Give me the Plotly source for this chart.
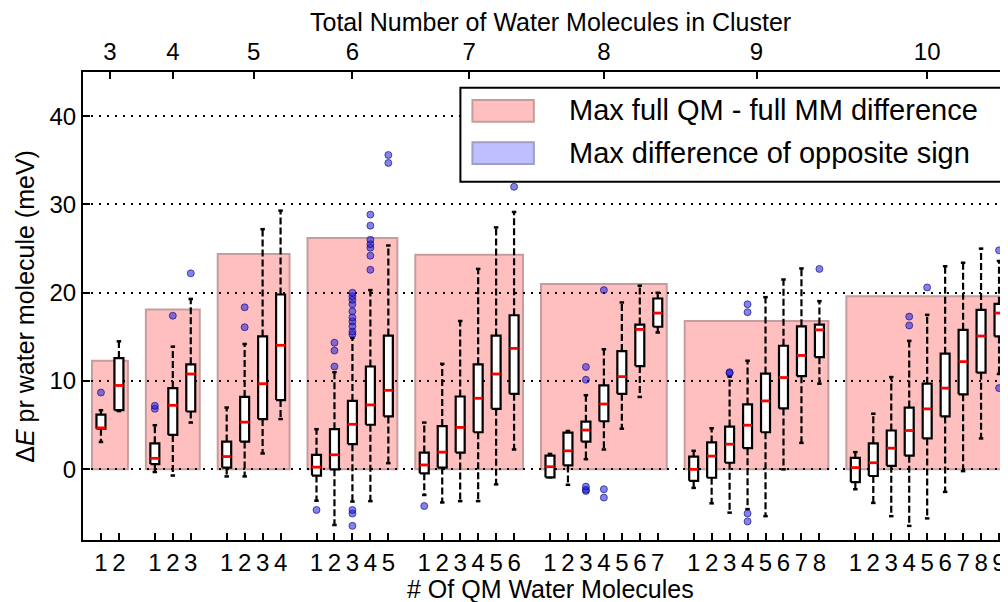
import plotly.graph_objects as go

# ---------------- data ----------------
cluster_sizes = [3, 4, 5, 6, 7, 8, 9, 10]
max_full_diff = [12.3, 18.1, 24.4, 26.2, 24.3, 21.0, 16.8, 19.6]

# per-box statistics, ordered by cluster size, then number of QM molecules (1 .. n-1)
whisker_low = [
    3.1, 6.6,
    -0.3, -0.7, 5.3,
    -0.8, -0.8, 1.8, 5.7,
    -3.55, -6.3, -3.65, -3.6, 0.7,
    -2.9, -3.75, -3.6, -3.6, -1.7, 2.25,
    -0.9, -1.75, 1.15, 2.25, 4.6, 8.2, 15.5,
    -2.1, -3.85, -4.9, -4.5, -5.3, 0.0, 3.0, 9.7,
    -2.25, -3.8, -5.3, -6.4, -5.55, -2.55, -0.2, 3.5, 10.8,
]
q1 = [
    4.6, 6.7,
    0.6, 3.9, 6.55,
    0.2, 3.15, 5.7, 7.85,
    -0.7, 0.0, 2.85, 5.05, 6.0,
    -0.45, 0.2, 1.9, 4.2, 6.85, 8.55,
    -0.9, 0.45, 3.15, 5.45, 8.55, 11.7, 16.15,
    -1.3, -0.95, 0.75, 2.4, 4.2, 6.9, 10.55, 12.7,
    -1.45, -0.75, 0.4, 1.55, 3.5, 6.0, 8.5, 10.95, 15.05,
]
median = [
    4.7, 9.5,
    1.25, 7.25, 10.8,
    1.45, 5.35, 9.7, 14.05,
    0.25, 1.65, 5.1, 7.3, 8.95,
    0.5, 1.95, 4.75, 8.05, 10.8, 13.7,
    0.3, 2.1, 4.45, 7.4, 10.5, 15.85, 17.7,
    0.0, 1.5, 2.85, 5.0, 7.75, 10.4, 12.9, 15.8,
    0.2, 0.75, 2.4, 4.4, 6.85, 9.2, 12.2, 15.1, 17.7,
]
q3 = [
    6.2, 12.6,
    2.95, 9.2, 11.9,
    3.15, 8.2, 15.05, 19.8,
    1.65, 4.55, 7.75, 11.65, 15.15,
    1.9, 4.9, 8.25, 11.9, 15.15, 17.45,
    1.55, 4.15, 5.4, 9.5, 13.4, 16.4, 19.35,
    1.45, 3.05, 4.85, 7.35, 10.85, 14.0, 16.2, 16.4,
    1.3, 2.95, 4.4, 7.0, 9.7, 13.1, 15.8, 18.05, 18.75,
]
whisker_high = [
    6.7, 14.5,
    5.0, 13.9, 19.3,
    7.0, 14.2, 27.2, 29.3,
    4.55, 11.0, 14.9, 20.3, 25.35,
    5.3, 11.95, 16.8, 22.7, 27.4, 29.15,
    1.75, 4.35, 8.4, 13.6, 18.9, 20.8, 20.0,
    2.1, 4.65, 10.5, 12.3, 19.5, 21.5, 22.75, 19.05,
    1.95, 6.3, 10.45, 14.55, 17.5, 23.0, 23.4, 25.0, 23.6,
]
fliers = [
    [8.7], [],
    [6.85, 7.2], [17.4], [22.2],
    [], [16.1, 18.35], [], [],
    [-4.6], [11.65, 13.45, 14.35],
    [-6.4, -5.0, -4.6, 15.3, 15.6, 16.2, 16.75, 17.2, 17.9, 18.7, 19.2, 19.6, 20.0],
    [22.6, 24.2, 25.1, 25.5, 26.0, 27.6, 28.85], [34.7, 35.6],
    [-4.15], [], [], [], [], [32.0],
    [], [], [-2.45, -2.3, -1.95, 10.15, 11.6], [-3.2, -2.25, 20.3], [], [], [],
    [], [], [10.9, 11.0], [-5.9, -5.0, 17.8, 18.7], [], [], [], [22.7],
    [], [], [], [16.3, 17.3], [20.6], [], [], [], [9.2, 24.8],
]

# ---------------- layout helpers ----------------
positions, qm_labels, spans = [], [], []
start = 1
for n in cluster_sizes:
    pos = list(range(start, start + n - 1))
    positions += pos
    qm_labels += [str(i) for i in range(1, n)]
    spans.append((pos[0], pos[-1]))
    start += n
group_centers = [(a + b) / 2 for a, b in spans]

BOX_W = 0.5
CAP_W = 0.25

box_x, box_y = [], []
wh_x, wh_y = [], []
cap_x, cap_y = [], []
med_x, med_y = [], []
fl_x, fl_y = [], []
for p, lo, a, m, b, hi, fl in zip(positions, whisker_low, q1, median, q3,
                                  whisker_high, fliers):
    l, r = p - BOX_W / 2, p + BOX_W / 2
    box_x += [l, r, r, l, l, None]
    box_y += [a, a, b, b, a, None]
    wh_x += [p, p, None, p, p, None]
    wh_y += [b, hi, None, a, lo, None]
    cap_x += [p - CAP_W / 2, p + CAP_W / 2, None, p - CAP_W / 2, p + CAP_W / 2, None]
    cap_y += [hi, hi, None, lo, lo, None]
    med_x += [l, r, None]
    med_y += [m, m, None]
    fl_x += [p] * len(fl)
    fl_y += fl

fig = go.Figure()
fig.add_trace(go.Scatter(x=wh_x, y=wh_y, mode="lines", hoverinfo="skip",
                         line=dict(color="black", width=2.2, dash="7px,3px")))
fig.add_trace(go.Scatter(x=cap_x, y=cap_y, mode="lines", hoverinfo="skip",
                         line=dict(color="black", width=2.5)))
fig.add_trace(go.Scatter(x=box_x, y=box_y, mode="lines", fill="toself",
                         fillcolor="white", hoverinfo="skip",
                         line=dict(color="black", width=2.2)))
fig.add_trace(go.Scatter(x=med_x, y=med_y, mode="lines", hoverinfo="skip",
                         line=dict(color="red", width=2.8)))
fig.add_trace(go.Scatter(x=fl_x, y=fl_y, mode="markers", hoverinfo="skip",
                         marker=dict(size=7, color="rgba(30,30,225,0.55)",
                                     line=dict(color="rgba(0,0,110,0.6)", width=1))))
# invisible trace to activate the top axis
fig.add_trace(go.Scatter(x=group_centers, y=[None] * len(group_centers),
                         xaxis="x2", mode="markers", showlegend=False,
                         hoverinfo="skip"))

shapes = []
for (a, b), h in zip(spans, max_full_diff):
    shapes.append(dict(type="rect", xref="x", yref="y", x0=a - 0.5, x1=b + 0.5,
                       y0=0, y1=h, fillcolor="rgb(255,191,191)",
                       line=dict(color="rgb(196,158,158)", width=2), layer="below"))

# legend (drawn manually)
shapes.append(dict(type="rect", xref="paper", yref="paper", x0=0.408, x1=0.995,
                   y0=0.7656, y1=0.9665, fillcolor="white",
                   line=dict(color="black", width=2), layer="above"))
shapes.append(dict(type="rect", xref="paper", yref="paper", x0=0.421, x1=0.4874,
                   y0=0.8938, y1=0.9402, fillcolor="rgb(255,191,191)",
                   line=dict(color="rgb(196,158,158)", width=2), layer="above"))
shapes.append(dict(type="rect", xref="paper", yref="paper", x0=0.421, x1=0.4874,
                   y0=0.8034, y1=0.8498, fillcolor="rgb(191,191,255)",
                   line=dict(color="rgb(158,158,200)", width=2), layer="above"))

FONT = "Liberation Sans, Arial, Helvetica, sans-serif"
annotations = [
    dict(text="Max full QM - full MM difference", xref="paper", yref="paper",
         x=0.5231, y=0.9194, xanchor="left", yanchor="middle", showarrow=False,
         font=dict(size=29, color="black", family=FONT)),
    dict(text="Max difference of opposite sign", xref="paper", yref="paper",
         x=0.5231, y=0.8263, xanchor="left", yanchor="middle", showarrow=False,
         font=dict(size=29, color="black", family=FONT)),
    dict(text="Total Number of Water Molecules in Cluster", xref="paper", yref="paper",
         x=0.5058, y=1.1068, xanchor="center", yanchor="middle", showarrow=False,
         font=dict(size=25, color="black", family=FONT)),
    dict(text="# Of QM Water Molecules", xref="paper", yref="paper",
         x=0.5058, y=-0.1047, xanchor="center", yanchor="middle", showarrow=False,
         font=dict(size=25, color="black", family=FONT)),
    dict(text="Δ<i>E</i> pr water molecule (meV)", xref="paper", yref="paper",
         x=-0.063, y=0.5, xanchor="center", yanchor="middle", textangle=-90,
         showarrow=False, font=dict(size=25, color="black", family=FONT)),
]

# the page places the figure 8px from the top-left corner, so the figure is
# sized to fill the remaining 1000x594 area of the window
fig.update_layout(
    width=1000, height=594,
    margin=dict(l=75, r=0, t=64, b=62, pad=0),
    paper_bgcolor="white", plot_bgcolor="white",
    showlegend=False,
    font=dict(family=FONT, size=24, color="black"),
    shapes=shapes, annotations=annotations,
    xaxis=dict(range=[0, 51.5], tickmode="array", tickvals=positions,
               ticktext=qm_labels, ticks="inside", ticklen=7, tickwidth=1.5,
               tickcolor="black", showline=True, linecolor="black", linewidth=2,
               showgrid=False, zeroline=False, tickfont=dict(size=24)),
    xaxis2=dict(range=[0, 51.5], overlaying="x", side="top", tickmode="array",
                tickvals=group_centers, ticktext=[str(n) for n in cluster_sizes],
                ticks="inside", ticklen=7, tickwidth=1.5, tickcolor="black",
                showline=True, linecolor="black", linewidth=2, showgrid=False,
                zeroline=False, tickfont=dict(size=24)),
    yaxis=dict(range=[-8, 45], tickmode="array", tickvals=[0, 10, 20, 30, 40],
               ticks="inside", ticklen=7, tickwidth=1.5, tickcolor="black",
               showline=True, linecolor="black", linewidth=2, showgrid=True,
               gridcolor="black", gridwidth=1.5, griddash="2px,6px",
               zeroline=False, tickfont=dict(size=24)),
)

fig.write_html("out.html")
